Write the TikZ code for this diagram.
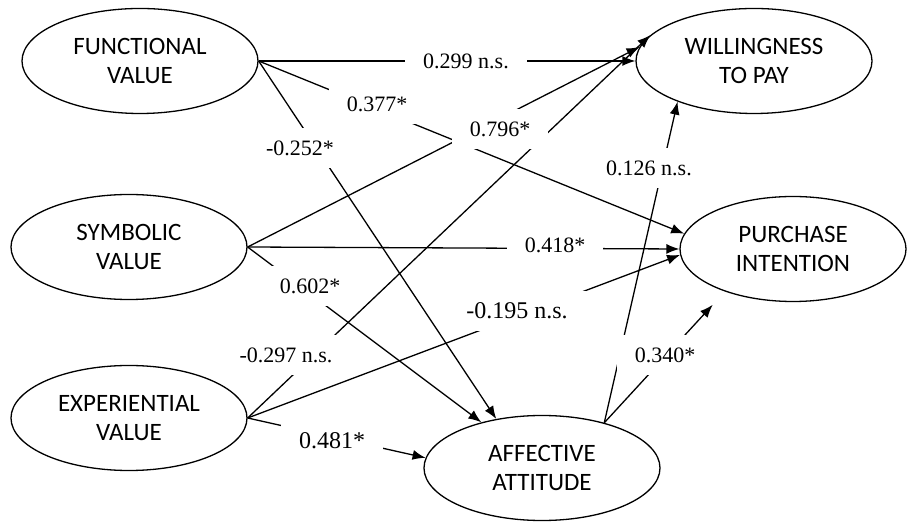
\documentclass[tikz,border=0pt]{standalone}
\usepackage{fontspec}
\newfontfamily\capfont{Carlito}
\newfontfamily\coeffont{Liberation Serif}
\usetikzlibrary{arrows.meta,calc,shapes}

\tikzset{
  construct/.style={draw, ellipse, line width=0.65pt, minimum width=118pt, minimum height=52.5pt,
    inner sep=0pt, align=center, font=\capfont\fontsize{12.5}{14.5}\selectfont},
  coef/.style={fill=white, inner xsep=9pt, inner ysep=0pt, minimum height=20pt,
    font=\coeffont\fontsize{11}{13}\selectfont},
  bigcoef/.style={coef, font=\coeffont\fontsize{12}{14}\selectfont},
  effect/.style={line width=0.65pt, -{Latex[length=6.5pt,width=5pt]}}
}

\begin{document}
\begin{tikzpicture}[x=0.5pt,y=-0.5pt]
\useasboundingbox (0,0) rectangle (908,522);

% constructs
\node[construct] (fun) at (140,61) {FUNCTIONAL\\VALUE};
\node[construct] (wil) at (754,61) {WILLINGNESS\\TO PAY};
\node[construct] (sym) at (129,247) {SYMBOLIC\\VALUE};
\node[construct, minimum width=113pt] (pur) at (793,249) {PURCHASE\\INTENTION};
\node[construct] (exp) at (129,418) {EXPERIENTIAL\\VALUE};
\node[construct] (aff) at (542,468) {AFFECTIVE\\ATTITUDE};

% paths
\draw[effect] (fun.east) -- (wil.west);
\draw[effect] (fun.east) -- (pur.172);
\draw[effect] (fun.east) -- (aff.133);
\draw[effect] (sym.east) -- (wil.173);
\draw[effect] (sym.east) -- (pur.west);
\draw[effect] (sym.east) -- (aff.143);
\draw[effect] (exp.east) -- (wil.166);
\draw[effect] (exp.east) -- (pur.183);
\draw[effect] (exp.east) -- (aff.175);
\draw[effect] (aff.36) -- (wil.208);
\draw[effect, shorten >=9pt] (aff.36) -- (pur.212);

% coefficients
\node[coef] (c-fw) at (466,61) {0.299 n.s.};
\node[coef] (c-fp) at (377,104) {0.377*};
\node[coef] (c-fa) at (300,148) {-0.252*};
\node[coef] (c-sw) at (500,129) {0.796*};
\node[coef] (c-aw) at (649,168) {0.126 n.s.};
\node[coef] (c-sp) at (555,245) {0.418*};
\node[coef] (c-sa) at (310,286) {0.602*};
\node[bigcoef] (c-ep) at (517,311) {-0.195 n.s.};
\node[coef] (c-ew) at (286,355) {-0.297 n.s.};
\node[coef] (c-ap) at (665,355) {0.340*};
\node[bigcoef] (c-ea) at (332,441) {0.481*};

\end{tikzpicture}
\end{document}
